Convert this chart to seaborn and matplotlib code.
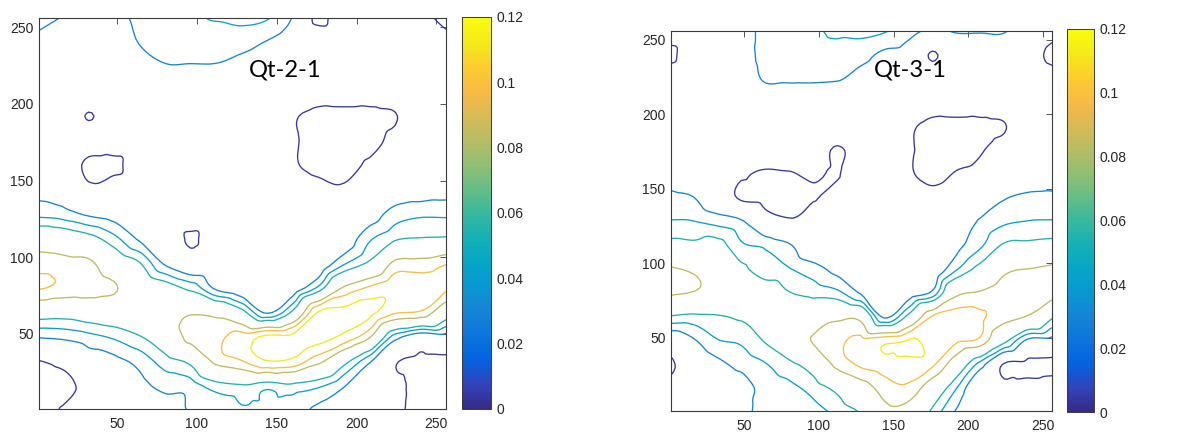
import numpy as np
import matplotlib
matplotlib.use("Agg")
import matplotlib.pyplot as plt
import matplotlib.tri as mtri
from matplotlib.colors import LinearSegmentedColormap, Normalize
from matplotlib.cm import ScalarMappable
from matplotlib.ticker import FuncFormatter
import seaborn as sns

# Sample positions (pixels) of the gridded field along each side of the image
grid_x = [0, 16, 32, 48, 64, 80, 96, 112, 128, 144, 160, 176, 192, 208, 224, 240, 256]
grid_y_top_down = [256, 240, 224, 208, 192, 176, 160, 144, 128, 112, 96, 80, 64, 48, 32, 16, 0]

# Qt-2-1 field: one row per grid_y_top_down entry, one column per grid_x entry
qt21_rows = [
    [0.034, 0.0295, 0.027, 0.026, 0.033, 0.038, 0.040, 0.043, 0.046, 0.043, 0.029, 0.000, 0.016, 0.016, 0.016, 0.008, 0.000],
    [0.027, 0.024, 0.020, 0.020, 0.0305, 0.035, 0.036, 0.036, 0.034, 0.029, 0.022, 0.016, 0.017, 0.017, 0.016, 0.014, 0.008],
    [0.022, 0.020, 0.018, 0.017, 0.024, 0.029, 0.029, 0.029, 0.026, 0.022, 0.019, 0.017, 0.017, 0.017, 0.016, 0.015, 0.014],
    [0.020, 0.019, 0.016, 0.015, 0.018, 0.022, 0.022, 0.024, 0.022, 0.019, 0.017, 0.012, 0.012, 0.012, 0.013, 0.016, 0.015],
    [0.020, 0.018, 0.003, 0.014, 0.015, 0.017, 0.018, 0.019, 0.019, 0.018, 0.006, 0.000, 0.000, 0.000, 0.003, 0.016, 0.016],
    [0.020, 0.019, 0.014, 0.014, 0.014, 0.015, 0.016, 0.017, 0.018, 0.017, 0.006, 0.000, 0.000, 0.000, 0.008, 0.017, 0.017],
    [0.020, 0.018, 0.000, 0.000, 0.014, 0.014, 0.015, 0.016, 0.017, 0.016, 0.006, 0.000, 0.000, 0.006, 0.012, 0.018, 0.018],
    [0.026, 0.022, 0.008, 0.014, 0.015, 0.014, 0.015, 0.015, 0.016, 0.015, 0.013, 0.009, 0.006, 0.014, 0.020, 0.022, 0.024],
    [0.039, 0.036, 0.028, 0.024, 0.018, 0.015, 0.014, 0.015, 0.016, 0.016, 0.015, 0.014, 0.016, 0.022, 0.036, 0.040, 0.040],
    [0.072, 0.068, 0.060, 0.046, 0.028, 0.018, 0.002, 0.014, 0.016, 0.017, 0.016, 0.016, 0.020, 0.040, 0.052, 0.055, 0.056],
    [0.092, 0.090, 0.088, 0.068, 0.055, 0.028, 0.014, 0.016, 0.017, 0.018, 0.016, 0.018, 0.040, 0.057, 0.088, 0.090, 0.097],
    [0.0995, 0.095, 0.092, 0.086, 0.070, 0.062, 0.050, 0.027, 0.018, 0.019, 0.020, 0.045, 0.086, 0.100, 0.108, 0.104, 0.100],
    [0.064, 0.062, 0.066, 0.068, 0.072, 0.075, 0.082, 0.078, 0.060, 0.028, 0.058, 0.113, 0.116, 0.116, 0.100, 0.096, 0.066],
    [0.031, 0.033, 0.038, 0.044, 0.053, 0.066, 0.090, 0.094, 0.104, 0.116, 0.116, 0.118, 0.108, 0.086, 0.036, 0.020, 0.024],
    [0.003, 0.008, 0.022, 0.026, 0.034, 0.048, 0.058, 0.088, 0.097, 0.111, 0.108, 0.088, 0.060, 0.032, 0.006, 0.000, 0.000],
    [0.000, 0.001, 0.008, 0.020, 0.026, 0.034, 0.036, 0.048, 0.052, 0.046, 0.050, 0.044, 0.031, 0.012, 0.008, 0.000, 0.000],
    [0.000, 0.005, 0.014, 0.018, 0.020, 0.022, 0.031, 0.032, 0.040, 0.038, 0.036, 0.026, 0.020, 0.010, 0.006, 0.001, 0.000],
]

# Qt-3-1 field, same layout
qt31_rows = [
    [0.012, 0.012, 0.014, 0.020, 0.036, 0.038, 0.040, 0.044, 0.046, 0.043, 0.034, 0.028, 0.031, 0.031, 0.031, 0.020, 0.010],
    [0.001, 0.012, 0.014, 0.020, 0.036, 0.037, 0.038, 0.038, 0.034, 0.027, 0.024, 0.002, 0.020, 0.020, 0.020, 0.012, 0.000],
    [0.012, 0.014, 0.015, 0.018, 0.032, 0.032, 0.032, 0.031, 0.026, 0.022, 0.020, 0.017, 0.018, 0.018, 0.017, 0.016, 0.012],
    [0.014, 0.015, 0.016, 0.016, 0.018, 0.019, 0.019, 0.020, 0.020, 0.019, 0.018, 0.012, 0.012, 0.013, 0.013, 0.016, 0.015],
    [0.015, 0.016, 0.016, 0.015, 0.016, 0.016, 0.016, 0.016, 0.017, 0.017, 0.007, 0.000, 0.000, 0.000, 0.003, 0.016, 0.016],
    [0.016, 0.016, 0.014, 0.012, 0.014, 0.014, 0.014, 0.002, 0.012, 0.016, 0.006, 0.000, 0.000, 0.003, 0.010, 0.017, 0.017],
    [0.022, 0.018, 0.012, 0.006, 0.002, 0.003, 0.006, 0.003, 0.015, 0.015, 0.006, 0.000, 0.005, 0.008, 0.015, 0.020, 0.020],
    [0.034, 0.0305, 0.016, 0.002, 0.000, 0.000, 0.003, 0.009, 0.016, 0.015, 0.013, 0.009, 0.014, 0.016, 0.029, 0.033, 0.034],
    [0.043, 0.0425, 0.038, 0.032, 0.012, 0.006, 0.012, 0.014, 0.016, 0.016, 0.016, 0.016, 0.018, 0.032, 0.040, 0.0425, 0.043],
    [0.060, 0.058, 0.060, 0.044, 0.040, 0.032, 0.016, 0.016, 0.017, 0.017, 0.017, 0.018, 0.026, 0.040, 0.056, 0.058, 0.060],
    [0.086, 0.082, 0.070, 0.058, 0.046, 0.043, 0.036, 0.026, 0.020, 0.018, 0.018, 0.018, 0.041, 0.060, 0.080, 0.0845, 0.088],
    [0.086, 0.083, 0.078, 0.072, 0.064, 0.055, 0.050, 0.046, 0.029, 0.020, 0.022, 0.034, 0.080, 0.086, 0.092, 0.092, 0.090],
    [0.052, 0.050, 0.052, 0.056, 0.064, 0.072, 0.070, 0.080, 0.078, 0.028, 0.060, 0.100, 0.104, 0.100, 0.090, 0.082, 0.056],
    [0.016, 0.028, 0.041, 0.044, 0.055, 0.070, 0.085, 0.094, 0.102, 0.108, 0.1132, 0.106, 0.100, 0.094, 0.058, 0.026, 0.024],
    [0.000, 0.016, 0.026, 0.034, 0.041, 0.050, 0.062, 0.088, 0.100, 0.105, 0.107, 0.100, 0.070, 0.036, 0.002, 0.000, 0.000],
    [0.010, 0.016, 0.020, 0.022, 0.036, 0.039, 0.046, 0.058, 0.074, 0.090, 0.094, 0.070, 0.042, 0.012, 0.010, 0.012, 0.014],
    [0.014, 0.018, 0.020, 0.026, 0.034, 0.036, 0.038, 0.045, 0.055, 0.078, 0.075, 0.050, 0.028, 0.012, 0.020, 0.026, 0.028],
]

panel_titles = ["Qt-2-1", "Qt-3-1"]
contour_levels = [0.004, 0.030, 0.042, 0.054, 0.084, 0.098, 0.112]
axis_ticks = [50, 100, 150, 200, 250]
colorbar_ticks = [0, 0.02, 0.04, 0.06, 0.08, 0.1, 0.12]

# Parula-style colour map (blue -> teal -> orange -> yellow)
parula_anchors = [
    (0.2081, 0.1663, 0.5292), (0.1959, 0.2645, 0.7279), (0.0117, 0.3875, 0.8820),
    (0.0498, 0.4586, 0.8641), (0.0793, 0.5200, 0.8312), (0.0343, 0.5966, 0.8199),
    (0.0228, 0.6535, 0.7768), (0.0843, 0.6928, 0.7062), (0.2178, 0.7250, 0.6193),
    (0.3953, 0.7459, 0.5244), (0.5709, 0.7485, 0.4494), (0.7184, 0.7411, 0.3905),
    (0.8507, 0.7299, 0.3360), (0.9739, 0.7314, 0.2666), (0.9880, 0.8066, 0.1794),
    (0.9598, 0.9218, 0.0948), (0.9763, 0.9831, 0.0538),
]
parula = LinearSegmentedColormap.from_list("parula", parula_anchors, N=256)

sns.set_theme(style="white")
plt.rcParams["font.family"] = ["Liberation Sans", "DejaVu Sans"]
plt.rcParams["axes.edgecolor"] = "#3a3a3a"
plt.rcParams["axes.linewidth"] = 0.8

fig = plt.figure(figsize=(11.82, 4.32), dpi=100)

layout = [
    dict(ax=[39 / 1182, 23 / 432, 407 / 1182, 391 / 432],
         cax=[462 / 1182, 23 / 432, 29 / 1182, 392 / 432],
         title_xy=(155, 222)),
    dict(ax=[671 / 1182, 21 / 432, 381 / 1182, 380 / 432],
         cax=[1067 / 1182, 20 / 432, 27 / 1182, 383 / 432],
         title_xy=(161, 230)),
]

gx = np.array(grid_x, dtype=float)
gy = np.array(grid_y_top_down[::-1], dtype=float)
X, Y = np.meshgrid(gx, gy)
triang = mtri.Triangulation(X.ravel(), Y.ravel())
refiner = mtri.UniformTriRefiner(triang)
tick_fmt = FuncFormatter(lambda v, _: f"{v:g}")

for rows, title, spec in zip([qt21_rows, qt31_rows], panel_titles, layout):
    norm = Normalize(vmin=0.0, vmax=0.12)
    Z = np.flipud(np.array(rows, dtype=float)).ravel()
    ax = fig.add_axes(spec["ax"])
    # smooth iso-lines drawn by matplotlib's cubic triangle interpolator
    interp = mtri.CubicTriInterpolator(triang, Z, kind="geom")
    tri_fine, z_fine = refiner.refine_field(Z, triinterpolator=interp, subdiv=3)
    ax.tricontour(tri_fine, z_fine, levels=contour_levels, cmap=parula,
                  norm=norm, linewidths=0.95)
    ax.set_xlim(1, 256)
    ax.set_ylim(1, 256)
    ax.set_xticks(axis_ticks)
    ax.set_yticks(axis_ticks)
    ax.tick_params(direction="in", top=True, right=True, length=4, width=0.6,
                   colors="#3a3a3a", labelcolor="#262626", labelsize=10)
    ax.tick_params(axis="x", pad=6)
    ax.tick_params(axis="y", pad=4)
    for s in ax.spines.values():
        s.set_visible(True)
        s.set_color("#3a3a3a")
    ax.text(*spec["title_xy"], title, ha="center", va="center",
            fontsize=17, family=["Lato", "DejaVu Sans"], color="black")

    cax = fig.add_axes(spec["cax"])
    cb = fig.colorbar(ScalarMappable(norm=norm, cmap=parula), cax=cax,
                      ticks=colorbar_ticks, format=tick_fmt)
    cb.outline.set_edgecolor("#3a3a3a")
    cb.outline.set_linewidth(0.7)
    cax.tick_params(direction="in", length=3, width=0.6, colors="#3a3a3a",
                    labelcolor="#262626", labelsize=10, pad=4)

fig.savefig("out.png", dpi=100)
